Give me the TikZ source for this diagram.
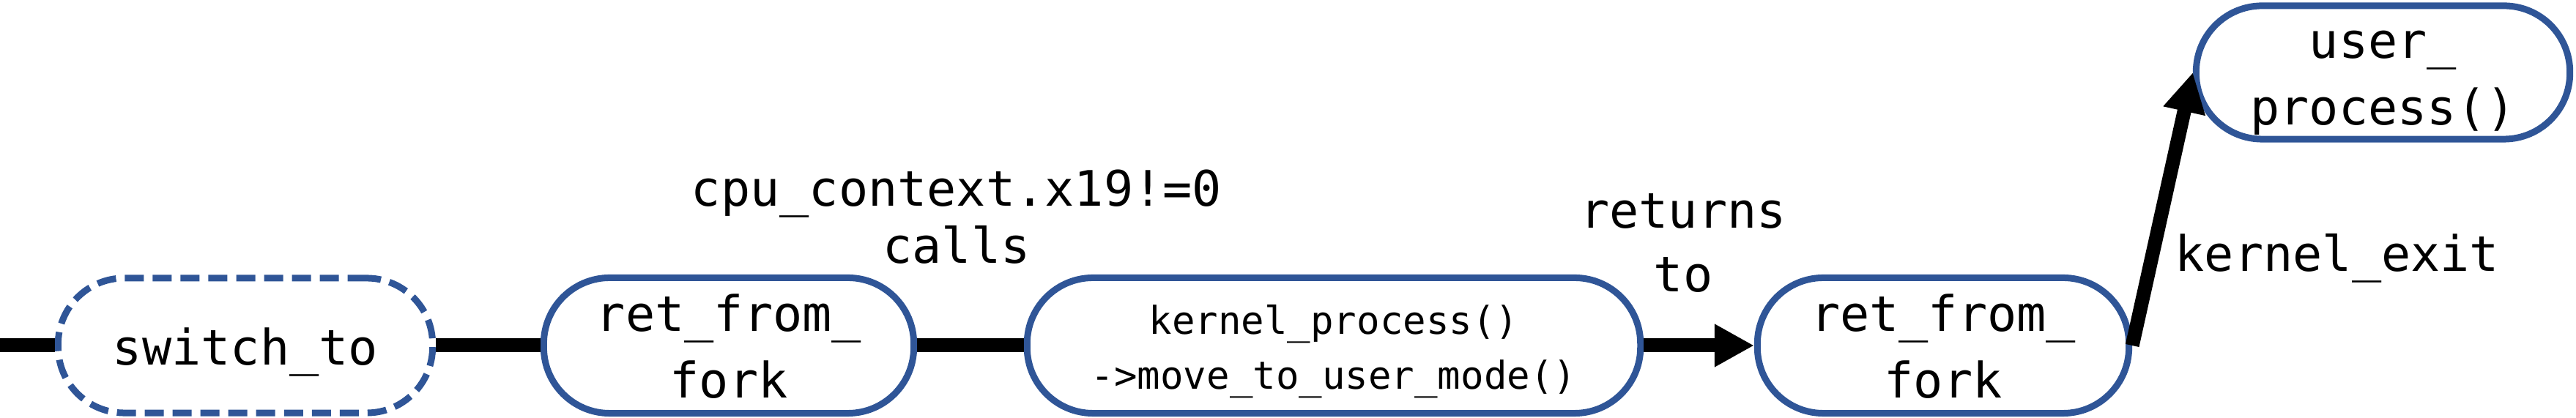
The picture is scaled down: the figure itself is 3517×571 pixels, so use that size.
\documentclass[tikz,border=0pt]{standalone}
\usepackage{fontspec}
\setmonofont{DejaVu Sans Mono}
\usetikzlibrary{arrows.meta}
\definecolor{boxblue}{HTML}{2F5597}
\newcommand\lnstrut{\rule[-0.21\baselineskip]{0pt}{\baselineskip}}
\tikzset{
  proc/.style={draw=boxblue, line width=0.09cm, rounded corners=0.9cm, fill=white,
    inner sep=0pt, minimum height=1.85cm, align=center,
    font=\ttfamily\fontsize{19}{25.9}\selectfont},
  dashproc/.style={proc, dash pattern=on 0.26cm off 0.12cm},
  smallfont/.style={font=\ttfamily\fontsize{14.9}{21.3}\selectfont},
  conn/.style={line width=0.19cm},
  arr/.style={conn, -{Triangle[length=0.54cm,width=0.55cm]}},
  lbl/.style={inner sep=0pt, align=center}
}
\begin{document}
\begin{tikzpicture}[x=0.01cm, y=-0.01cm]
  \useasboundingbox (0,0) rectangle (3517,571);
  \coordinate (start) at (0,472);
  \node[dashproc, minimum width=5.11cm, minimum height=1.84cm] (sw) at (335,472) {\lnstrut switch\_to};
  \node[proc, minimum width=5.05cm] (ret1) at (995,472) {\lnstrut ret\_from\_\\\lnstrut fork};
  \node[proc, smallfont, minimum width=8.37cm] (kern) at (1821,472) {\lnstrut kernel\_process()\\\lnstrut ->move\_to\_user\_mode()};
  \node[proc, minimum width=5.07cm] (ret2) at (2653,472) {\lnstrut ret\_from\_\\\lnstrut fork};
  \node[proc, minimum width=5.10cm, minimum height=1.81cm] (user) at (3253.5,99) {\lnstrut user\_\\\lnstrut process()};

  \draw[conn] (start) -- (sw.west);
  \draw[conn] (sw.east) -- (ret1.west);
  \draw[conn] (ret1.east) -- (kern.west);
  \draw[arr] (kern.east) -- (ret2.west);
  \draw[arr] (ret2.east) -- (user.west);

  \node[lbl, font=\ttfamily\fontsize{19}{21.3}\selectfont] (cond) at (1306,299) {\lnstrut cpu\_context.x19!=0\\\lnstrut calls};
  \node[lbl, font=\ttfamily\fontsize{19}{24.5}\selectfont] (ret) at (2298,330) {\lnstrut returns\\\lnstrut to};
  \node[lbl, anchor=base west, font=\ttfamily\fontsize{19}{24.5}\selectfont] (kx) at (2969,371) {kernel\_exit};
\end{tikzpicture}
\end{document}
